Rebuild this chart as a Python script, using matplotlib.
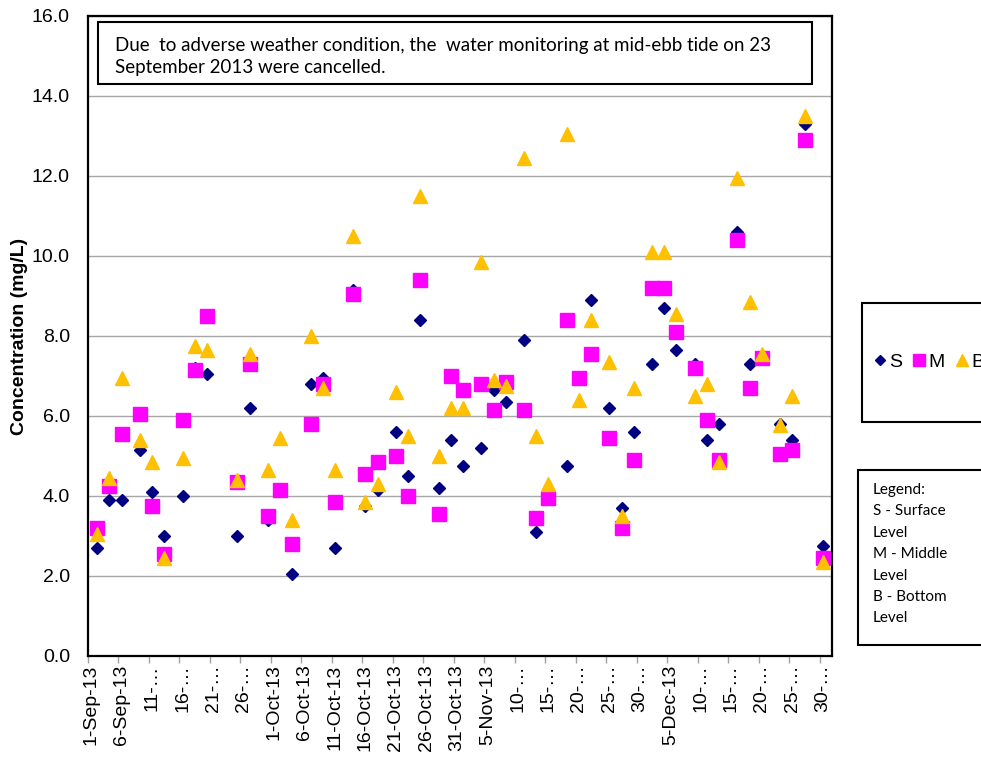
import matplotlib
matplotlib.use("Agg")
import matplotlib.pyplot as plt
from matplotlib.patches import Rectangle
import pandas as pd
import numpy as np

# ---- data ----
dates = ["2013-09-02", "2013-09-04", "2013-09-06", "2013-09-09", "2013-09-11", "2013-09-13",
         "2013-09-16", "2013-09-18", "2013-09-20", "2013-09-25", "2013-09-27", "2013-09-30",
         "2013-10-02", "2013-10-04", "2013-10-07", "2013-10-09", "2013-10-11", "2013-10-14",
         "2013-10-16", "2013-10-18", "2013-10-21", "2013-10-23", "2013-10-25", "2013-10-28",
         "2013-10-30", "2013-11-01", "2013-11-04", "2013-11-06", "2013-11-08", "2013-11-11",
         "2013-11-13", "2013-11-15", "2013-11-18", "2013-11-20", "2013-11-22", "2013-11-25",
         "2013-11-27", "2013-11-29", "2013-12-02", "2013-12-04", "2013-12-06", "2013-12-09",
         "2013-12-11", "2013-12-13", "2013-12-16", "2013-12-18", "2013-12-20", "2013-12-23",
         "2013-12-25", "2013-12-27", "2013-12-30"]
surface = [2.7, 3.9, 3.9, 5.15, 4.1, 3.0, 4.0, 7.2, 7.05, 3.0, 6.2, 3.4,
           4.15, 2.05, 6.8, 6.95, 2.7, 9.15, 3.75, 4.15, 5.6, 4.5, 8.4, 4.2,
           5.4, 4.75, 5.2, 6.65, 6.35, 7.9, 3.1, 4.05, 4.75, 6.95, 8.9, 6.2,
           3.7, 5.6, 7.3, 8.7, 7.65, 7.3, 5.4, 5.8, 10.6, 7.3, 7.45, 5.8,
           5.4, 13.3, 2.75]
middle = [3.2, 4.25, 5.55, 6.05, 3.75, 2.55, 5.9, 7.15, 8.5, 4.35, 7.3, 3.5,
          4.15, 2.8, 5.8, 6.8, 3.85, 9.05, 4.55, 4.85, 5.0, 4.0, 9.4, 3.55,
          7.0, 6.65, 6.8, 6.15, 6.85, 6.15, 3.45, 3.95, 8.4, 6.95, 7.55, 5.45,
          3.2, 4.9, 9.2, 9.2, 8.1, 7.2, 5.9, 4.9, 10.4, 6.7, 7.45, 5.05,
          5.15, 12.9, 2.45]
bottom = [3.05, 4.45, 6.95, 5.4, 4.85, 2.45, 4.95, 7.75, 7.65, 4.4, 7.55, 4.65,
          5.45, 3.4, 8.0, 6.7, 4.65, 10.5, 3.85, 4.3, 6.6, 5.5, 11.5, 5.0,
          6.2, 6.2, 9.85, 6.9, 6.75, 12.45, 5.5, 4.3, 13.05, 6.4, 8.4, 7.35,
          3.5, 6.7, 10.1, 10.1, 8.55, 6.5, 6.8, 4.85, 11.95, 8.85, 7.55, 5.78,
          6.5, 13.5, 2.35]
tick_labels = ["1-Sep-13", "6-Sep-13", "11-…", "16-…", "21-…", "26-…",
               "1-Oct-13", "6-Oct-13", "11-Oct-13", "16-Oct-13", "21-Oct-13", "26-Oct-13",
               "31-Oct-13", "5-Nov-13", "10-…", "15-…", "20-…", "25-…", "30-…",
               "5-Dec-13", "10-…", "15-…", "20-…", "25-…", "30-…"]
axis_start = "2013-09-01"
axis_end = "2013-12-31"

# ---- figure ----
W, H = 981, 757
fig = plt.figure(figsize=(W / 100, H / 100), dpi=100)
ax = fig.add_axes([88 / W, 1 - 656 / H, (832 - 88) / W, (656 - 16) / H])

start = pd.Timestamp(axis_start)
x = (pd.to_datetime(dates) - start).days.values.astype(float)
ndays = (pd.Timestamp(axis_end) - start).days + 1

ax.set_axisbelow(True)
hS, = ax.plot(x, surface, linestyle="none", marker="D", ms=5.8, color="#000080", mec="#000080", label="S", zorder=3)
hM, = ax.plot(x, middle, linestyle="none", marker="s", ms=9.5, color="#FF00FF", mec="#FF00FF", label="M", zorder=4)
hB, = ax.plot(x, bottom, linestyle="none", marker="^", ms=10.5, color="#FFC000", mec="#FFC000", label="B", zorder=5)

ax.set_xlim(-0.5, ndays - 0.5)
ax.set_ylim(0, 16)
yt = np.arange(0, 16.01, 2)
ax.set_yticks(yt)
ax.set_yticklabels([f"{v:.1f}" for v in yt], fontsize=14, family="Liberation Sans")
ax.tick_params(axis="y", length=0, pad=13)
ax.yaxis.grid(True, color="#a6a6a6", linewidth=1.0)

xt = np.arange(0, ndays, 5)[:len(tick_labels)]
ax.set_xticks(xt)
ax.set_xticklabels(tick_labels, rotation=90, fontsize=14, family="Liberation Sans",
                   ha="center", va="top")
ax.tick_params(axis="x", which="major", length=0, pad=6)
ax.set_xticks(np.arange(-0.5, ndays, 5), minor=True)
ax.tick_params(axis="x", which="minor", length=5, color="#a0a0a0", width=1)

for s in ax.spines.values():
    s.set_color("black")
    s.set_linewidth(1.6)

ax.set_ylabel("Concentration (mg/L)", fontsize=14, fontweight="bold", family="Liberation Sans",
              labelpad=3)

# note box
fig.patches.append(Rectangle((98 / W, 1 - 84 / H), (812 - 98) / W, (84 - 22) / H,
                             transform=fig.transFigure, facecolor="white", edgecolor="black",
                             linewidth=1.5, zorder=10))
fig.text(115 / W, 1 - 45 / H,
         "Due  to adverse weather condition, the  water monitoring at mid-ebb tide on 23",
         fontsize=13.5, family="Lato", va="center", ha="left", zorder=11)
fig.text(115 / W, 1 - 67 / H, "September 2013 were cancelled.",
         fontsize=13.5, family="Lato", va="center", ha="left", zorder=11)

# legend box with markers
fig.patches.append(Rectangle((862 / W, 1 - 422 / H), 200 / W, (422 - 303) / H,
                             transform=fig.transFigure, facecolor="white", edgecolor="black",
                             linewidth=1.5, zorder=-1))
leg = fig.legend(handles=[hS, hM, hB], loc="center left", bbox_to_anchor=(873 / W, 1 - 362 / H),
                 bbox_transform=fig.transFigure,
                 ncol=3, frameon=False, handlelength=0.7, handletextpad=0.15, columnspacing=0.5,
                 markerscale=0.85, prop={"family": "Liberation Sans", "size": 14}, borderaxespad=0,
                 borderpad=0)
leg.set_zorder(20)

# text legend box
fig.patches.append(Rectangle((858 / W, 1 - 645 / H), 200 / W, (645 - 470) / H,
                             transform=fig.transFigure, facecolor="white", edgecolor="black",
                             linewidth=1.5, zorder=-1))
lines = ["Legend:", "S - Surface", "Level", "M - Middle", "Level", "B - Bottom", "Level"]
for i, t in enumerate(lines):
    fig.text(873 / W, 1 - (490 + i * 21.4) / H, t, fontsize=11, family="Lato",
             va="center", ha="left")

fig.savefig("out.png", dpi=100)
